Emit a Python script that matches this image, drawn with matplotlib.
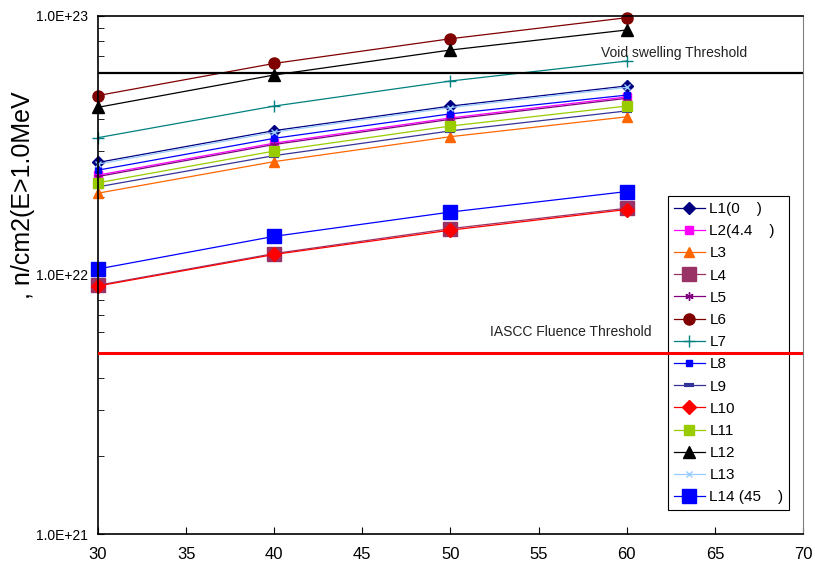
import math
import matplotlib
matplotlib.use("Agg")
import matplotlib.pyplot as plt
from matplotlib.ticker import LogLocator, FuncFormatter, NullFormatter, MultipleLocator

plt.rcParams['font.family'] = ['Liberation Sans', 'DejaVu Sans']

# x: 30~60, fluence n/cm2 (E>1.0MeV)
years = [30, 40, 50, 60]

labels = ["L1(0    )", "L2(4.4    )", "L3", "L4", "L5", "L6", "L7",
          "L8", "L9", "L10", "L11", "L12", "L13", "L14 (45    )"]

L1 = [2.72e22, 3.61e22, 4.49e22, 5.37e22]
L2 = [2.43e22, 3.23e22, 4.04e22, 4.87e22]
L3 = [2.07e22, 2.74e22, 3.42e22, 4.08e22]
L4 = [9.13e21, 1.21e22, 1.51e22, 1.81e22]
L5 = [2.40e22, 3.19e22, 3.99e22, 4.81e22]
L6 = [4.93e22, 6.56e22, 8.17e22, 9.85e22]
L7 = [3.39e22, 4.49e22, 5.61e22, 6.70e22]
L8 = [2.54e22, 3.37e22, 4.19e22, 4.95e22]
L9 = [2.19e22, 2.89e22, 3.60e22, 4.30e22]
L10 = [9.07e21, 1.20e22, 1.49e22, 1.79e22]
L11 = [2.27e22, 3.01e22, 3.76e22, 4.49e22]
L12 = [4.44e22, 5.92e22, 7.39e22, 8.83e22]
L13 = [2.68e22, 3.56e22, 4.43e22, 5.30e22]
L14 = [1.055e22, 1.41e22, 1.75e22, 2.10e22]
series = [L1, L2, L3, L4, L5, L6, L7, L8, L9, L10, L11, L12, L13, L14]

void_threshold = 6.0e22
iascc_threshold = 5.0e21

# (line color, marker, marker color, marker size)
styles = [
    ("#000080", "D", "#000080", 6),
    ("#FF00FF", "s", "#FF00FF", 6),
    ("#FF6600", "^", "#FF6600", 7),
    ("#993366", "s", "#993366", 10),
    ("#800080", (6, 2, 0), "#800080", 6),
    ("#800000", "o", "#800000", 8),
    ("#008080", "+", "#008080", 8),
    ("#0000FF", "s", "#0000FF", 4),
    ("#333399", "_", "#333399", 7),
    ("#FF0000", "D", "#FF0000", 7),
    ("#99CC00", "s", "#99CC00", 7),
    ("#000000", "^", "#000000", 8),
    ("#99CCFF", "x", "#99CCFF", 5),
    ("#0000FF", "s", "#0000FF", 10),
]

fig = plt.figure(figsize=(8.15, 5.69), dpi=100)
ax = fig.add_axes([0.1202, 0.0615, 0.8651, 0.9104])

for vals, lab, (lc, mk, mc, ms) in zip(series, labels, styles):
    mew = 3 if mk == "_" else 1
    ax.plot(years, vals, color=lc, lw=0.9, marker=mk, markersize=ms,
            markerfacecolor=mc, markeredgecolor=mc, markeredgewidth=mew,
            label=lab, clip_on=False)

ax.axhline(void_threshold, color="black", lw=1.6, zorder=6)
ax.axhline(iascc_threshold, color="#FF0000", lw=2.2, zorder=6)

ax.text(58.55, 7.2e22, "Void swelling Threshold", fontsize=10, va="center", ha="left",
        color="#222222")
ax.text(61.4, 6.05e21, "IASCC Fluence Threshold", fontsize=10, va="center", ha="right",
        color="#222222")

ax.set_yscale("log")
ax.set_xlim(30, 70)
ax.set_ylim(1e21, 1e23)
ax.xaxis.set_major_locator(MultipleLocator(5))
ax.yaxis.set_major_locator(LogLocator(base=10))
ax.yaxis.set_minor_locator(LogLocator(base=10, subs=range(2, 10)))
ax.yaxis.set_major_formatter(FuncFormatter(lambda v, p: "1.0E+%d" % round(math.log10(v))))
ax.yaxis.set_minor_formatter(NullFormatter())
ax.tick_params(axis="both", which="both", direction="in")
ax.tick_params(axis="y", which="major", length=4, labelsize=10, pad=7)
ax.tick_params(axis="y", which="minor", length=4)
ax.tick_params(axis="x", which="major", length=5, labelsize=12, pad=9)

for side in ["left", "bottom", "top"]:
    ax.spines[side].set_color("black")
    ax.spines[side].set_linewidth(1.2)
ax.spines["right"].set_color("#808080")

ax.set_ylabel(", n/cm2(E>1.0MeV", fontsize=18)
ax.yaxis.set_label_coords(-0.089, 0.655)

leg = ax.legend(loc="upper left", bbox_to_anchor=(0.8085, 0.6525), fontsize=11,
                frameon=True, fancybox=False, edgecolor="black", framealpha=1,
                handlelength=2.0, handletextpad=0.3, labelspacing=0.535,
                borderpad=0.4, borderaxespad=0)
leg.get_frame().set_linewidth(0.8)
leg.set_zorder(5)

fig.savefig("out.png", dpi=100)
